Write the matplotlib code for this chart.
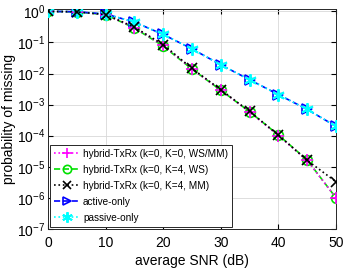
import matplotlib
matplotlib.use("Agg")
import matplotlib.pyplot as plt

plt.rcParams['font.family'] = ['Liberation Sans', 'DejaVu Sans']

snr = [0, 5, 10, 15, 20, 25, 30, 35, 40, 45, 50]

# hybrid curves (nearly identical except at high SNR)
hyb_ws_mm = [1.0, 0.96, 0.78, 0.30, 0.080, 0.0140, 0.0029, 5.8e-4, 1.0e-4, 1.6e-5, 1.0e-6]
hyb_ws = [1.0, 0.96, 0.78, 0.29, 0.076, 0.0138, 0.0029, 5.9e-4, 1.05e-4, 1.65e-5, 1.0e-6]
hyb_mm = [1.0, 0.96, 0.79, 0.31, 0.085, 0.0145, 0.0030, 6.0e-4, 1.05e-4, 1.6e-5, 3.3e-6]
active = [1.0, 0.97, 0.82, 0.45, 0.18, 0.062, 0.019, 0.0063, 0.0021, 7.0e-4, 2.0e-4]
passive = [1.0, 0.97, 0.82, 0.45, 0.18, 0.062, 0.019, 0.0063, 0.0021, 7.0e-4, 2.0e-4]

labels = ['hybrid-TxRx (k=0, K=0, WS/MM)', 'hybrid-TxRx (k=0, K=4, WS)',
          'hybrid-TxRx (k=0, K=4, MM)', 'active-only', 'passive-only']

fig = plt.figure(figsize=(3.46, 2.69), dpi=100)
ax = fig.add_axes([0.139, 0.149, 0.832, 0.818])

ax.semilogy(snr, hyb_ws_mm, ':', color='magenta', marker='+', ms=8, mew=1.2, lw=1.2, label=labels[0], zorder=5)
ax.semilogy(snr, hyb_ws, '--', color='#00e000', marker='o', ms=7, mfc='none', mew=1.2, lw=1.2, label=labels[1], zorder=4)
ax.semilogy(snr, hyb_mm, ':', color='black', marker='x', ms=7, mew=1.2, lw=1.2, label=labels[2], zorder=6)
ax.semilogy(snr, active, '--', color='blue', marker='>', ms=7, mfc='none', mew=1.2, lw=1.2, label=labels[3], zorder=4)
ax.semilogy(snr, passive, ':', color='cyan', marker=(6, 2, 0), ms=9, mew=1.4, lw=1.2, label=labels[4], zorder=5)

ax.set_xlim(0, 50)
ax.set_ylim(1e-7, 1.2)
ax.set_xticks([0, 10, 20, 30, 40, 50])
ax.set_yticks([10.0**k for k in range(-7, 1)])
ax.grid(True, which='major', color='#d8d8d8', lw=0.6)
ax.grid(True, which='minor', axis='y', color='#e6e6e6', lw=0.5, ls=':')
ax.tick_params(which='both', direction='in', top=True, right=True, labelsize=10)
ax.tick_params(axis='x', pad=5)
ax.tick_params(axis='y', pad=2)
for s in ax.spines.values():
    s.set_linewidth(0.7)
    s.set_color('#262626')

ax.set_xlabel('average SNR (dB)', fontsize=10, labelpad=3)
ax.set_ylabel('probability of missing', fontsize=10, labelpad=1)

leg = ax.legend(loc='lower left', bbox_to_anchor=(0.0, 0.0), fontsize=7.2, handlelength=2.6,
                handletextpad=0.3, labelspacing=0.6, borderpad=0.4, borderaxespad=0.2,
                markerscale=0.85, fancybox=False, framealpha=1, edgecolor='#262626')
leg.get_frame().set_linewidth(0.7)

fig.savefig('out.png', dpi=100)
